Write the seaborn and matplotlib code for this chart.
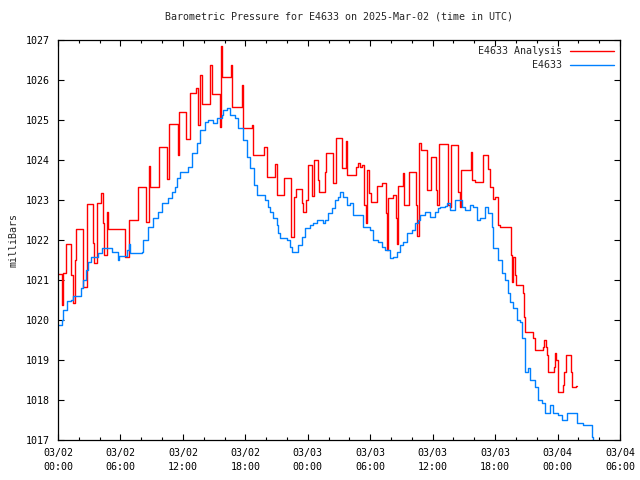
import matplotlib
matplotlib.use("Agg")
import matplotlib.pyplot as plt
import matplotlib.dates as mdates
import seaborn as sns
import pandas as pd

# hours after 2025-03-02 00:00 UTC, pressure in millibars
blue_hours = [0.00, 0.38, 0.48, 0.86, 1.25, 1.44, 2.21, 2.40, 2.69, 2.88, 3.17, 3.84, 4.23,
              5.19, 5.77, 5.87, 6.63, 6.82, 6.92, 8.07, 8.17, 8.65, 9.13, 9.61, 10.00, 10.57,
              10.96, 11.24, 11.44, 11.72, 12.49, 12.88, 13.36, 13.65, 14.13, 14.42, 14.90,
              15.28, 15.76, 15.86, 16.24, 16.53, 17.01, 17.30, 17.78, 18.16, 18.45, 18.84,
              19.13, 19.90, 20.18, 20.37, 20.66, 21.05, 21.14, 21.33, 22.00, 22.30, 22.49,
              23.07, 23.45, 23.74, 24.22, 24.50, 24.89, 25.47, 25.66, 25.95, 26.33, 26.62,
              26.91, 27.10, 27.39, 27.77, 28.06, 28.35, 29.31, 29.98, 30.27, 30.75, 31.13,
              31.42, 31.90, 32.19, 32.58, 32.86, 33.15, 33.54, 34.02, 34.31, 34.59, 34.79,
              35.27, 35.75, 36.23, 36.52, 36.71, 37.19, 37.38, 37.67, 38.15, 38.82, 39.11,
              39.59, 39.88, 40.26, 40.55, 41.03, 41.32, 41.70, 41.80, 42.28, 42.66, 42.95,
              43.24, 43.43, 43.72, 44.11, 44.39, 44.59, 44.88, 45.17, 45.36, 45.84, 46.13,
              46.51, 46.80, 47.28, 47.57, 48.05, 48.43, 48.91, 49.88, 50.45, 51.32, 51.42]
blue_vals = [1019.88, 1020.00, 1020.25, 1020.48, 1020.50, 1020.60, 1020.80, 1021.00, 1021.25,
             1021.45, 1021.58, 1021.68, 1021.80, 1021.70, 1021.50, 1021.60, 1021.75, 1021.90,
             1021.68, 1021.70, 1022.00, 1022.33, 1022.55, 1022.70, 1022.93, 1023.05, 1023.20,
             1023.33, 1023.55, 1023.70, 1023.83, 1024.18, 1024.43, 1024.75, 1024.95, 1025.00,
             1024.93, 1025.05, 1025.13, 1025.25, 1025.30, 1025.13, 1025.05, 1024.80, 1024.50,
             1024.08, 1023.80, 1023.38, 1023.13, 1023.00, 1022.83, 1022.70, 1022.55, 1022.38,
             1022.18, 1022.05, 1022.00, 1021.83, 1021.70, 1021.88, 1022.08, 1022.30, 1022.38,
             1022.43, 1022.50, 1022.43, 1022.50, 1022.68, 1022.80, 1023.00, 1023.08, 1023.20,
             1023.08, 1022.88, 1022.93, 1022.63, 1022.33, 1022.25, 1022.00, 1021.95, 1021.83,
             1021.75, 1021.55, 1021.58, 1021.70, 1021.88, 1021.95, 1022.18, 1022.25, 1022.43,
             1022.50, 1022.63, 1022.70, 1022.58, 1022.70, 1022.80, 1022.83, 1022.85, 1022.93,
             1022.75, 1023.00, 1022.83, 1022.75, 1022.88, 1022.83, 1022.50, 1022.55, 1022.83,
             1022.68, 1022.33, 1021.80, 1021.50, 1021.18, 1021.00, 1020.68, 1020.45, 1020.30,
             1020.00, 1019.95, 1019.55, 1018.70, 1018.80, 1018.50, 1018.33, 1018.00, 1017.93,
             1017.68, 1017.88, 1017.68, 1017.63, 1017.50, 1017.68, 1017.43, 1017.38, 1017.08,
             1016.95]

red_hours = [0.00, 0.38, 0.48, 0.77, 1.25, 1.44, 1.63, 1.73, 2.40, 2.79, 3.36, 3.46, 3.75,
             4.13, 4.32, 4.42, 4.71, 4.80, 6.44, 6.82, 7.69, 8.46, 8.74, 8.84, 9.71, 10.47,
             10.67, 11.53, 11.63, 12.30, 12.68, 13.26, 13.45, 13.64, 13.84, 14.61, 14.80,
             15.57, 15.66, 15.76, 16.62, 16.72, 17.68, 17.78, 18.64, 18.74, 19.77, 20.08,
             20.85, 21.04, 21.72, 22.39, 22.68, 22.87, 23.45, 23.54, 23.83, 24.02, 24.41,
             24.60, 24.98, 25.08, 25.66, 25.75, 26.43, 26.71, 27.29, 27.67, 27.77, 28.64,
             28.83, 29.02, 29.21, 29.40, 29.60, 29.69, 29.88, 30.08, 30.65, 31.13, 31.52,
             31.61, 31.71, 32.19, 32.48, 32.58, 32.67, 33.15, 33.25, 33.73, 34.40, 34.50,
             34.69, 34.88, 35.46, 35.84, 36.32, 36.42, 36.61, 37.47, 37.67, 37.76, 38.44,
             38.63, 38.72, 39.68, 39.78, 40.07, 40.84, 41.32, 41.51, 41.80, 41.99, 42.28,
             42.47, 43.53, 43.63, 43.72, 43.91, 44.01, 44.68, 44.78, 44.87, 45.64, 45.84,
             46.61, 46.70, 46.89, 46.99, 47.09, 47.66, 47.76, 47.85, 48.05, 48.53, 48.62,
             48.81, 49.30, 49.39, 49.78, 49.87]
red_vals = [1021.15, 1020.38, 1021.18, 1021.90, 1021.13, 1020.43, 1021.50, 1022.28, 1020.83,
            1022.90, 1021.93, 1021.43, 1022.93, 1023.18, 1022.43, 1021.63, 1022.70, 1022.28,
            1021.58, 1022.50, 1023.33, 1022.45, 1023.85, 1023.33, 1024.33, 1023.53, 1024.90,
            1024.13, 1025.20, 1024.53, 1025.68, 1025.80, 1024.88, 1026.13, 1025.40, 1026.38,
            1025.65, 1024.83, 1026.85, 1026.08, 1026.38, 1025.33, 1025.88, 1024.80, 1024.88,
            1024.13, 1024.33, 1023.58, 1023.90, 1023.13, 1023.55, 1022.08, 1023.08, 1023.28,
            1022.93, 1022.70, 1023.00, 1023.88, 1023.10, 1024.00, 1023.50, 1023.20, 1023.70,
            1024.18, 1023.43, 1024.55, 1023.80, 1024.48, 1023.63, 1023.83, 1023.93, 1023.83,
            1023.88, 1022.88, 1022.43, 1023.75, 1023.18, 1022.95, 1023.35, 1023.43, 1022.68,
            1021.75, 1023.05, 1023.13, 1022.55, 1021.90, 1023.35, 1023.68, 1022.88, 1023.70,
            1022.88, 1022.10, 1024.43, 1024.25, 1023.25, 1024.08, 1023.25, 1022.88, 1024.40,
            1022.88, 1022.83, 1024.38, 1023.20, 1022.83, 1023.75, 1024.20, 1023.50, 1023.45,
            1024.13, 1023.78, 1023.33, 1023.03, 1023.08, 1022.38, 1022.33, 1021.63, 1020.95,
            1021.58, 1021.13, 1020.88, 1020.68, 1020.08, 1019.70, 1019.55, 1019.25, 1019.33,
            1019.50, 1019.33, 1019.13, 1018.70, 1018.83, 1019.18, 1019.00, 1018.20, 1018.38,
            1018.70, 1019.13, 1018.70, 1018.33, 1018.35, 1018.35]

start = pd.Timestamp("2025-03-02 00:00")
blue = pd.DataFrame({"time": start + pd.to_timedelta(blue_hours, unit="h"), "pressure": blue_vals})
red = pd.DataFrame({"time": start + pd.to_timedelta(red_hours, unit="h"), "pressure": red_vals})

sns.set_style("ticks")
plt.rcParams["font.family"] = ["DejaVu Sans Mono"]
plt.rcParams["font.size"] = 7.2

fig, ax = plt.subplots(figsize=(6.4, 4.8), dpi=100)
fig.subplots_adjust(left=58 / 640, right=620 / 640, top=1 - 40 / 480, bottom=1 - 440 / 480)

sns.lineplot(data=red, x="time", y="pressure", ax=ax, color="#ff0000", lw=1.0,
             drawstyle="steps-post", estimator=None, label="E4633 Analysis")
sns.lineplot(data=blue, x="time", y="pressure", ax=ax, color="#0080ff", lw=1.0,
             drawstyle="steps-post", estimator=None, label="         E4633")

ax.set_xlim(start, start + pd.Timedelta(hours=54))
ax.set_ylim(1017, 1027)
ax.set_yticks(range(1017, 1028))
ax.xaxis.set_major_locator(mdates.HourLocator(byhour=[0, 6, 12, 18]))
ax.xaxis.set_minor_locator(mdates.HourLocator(interval=2))
ax.xaxis.set_major_formatter(mdates.DateFormatter("%m/%d\n%H:%M"))
ax.tick_params(which="both", direction="in", top=True, right=True, colors="black", labelsize=7.2)
ax.tick_params(which="major", length=4.5, width=0.8, pad=6)
ax.tick_params(which="minor", length=2.5, width=0.8)
for lbl in ax.get_xticklabels():
    lbl.set_linespacing(1.5)
for s in ax.spines.values():
    s.set_linewidth(0.9)
    s.set_color("black")

ax.set_xlabel("")
ax.set_ylabel("milliBars", fontsize=7.2, labelpad=5)
ax.set_title("Barometric Pressure for E4633 on 2025-Mar-02 (time in UTC)", fontsize=7.2, pad=15)

ax.legend(loc="upper right", frameon=False, markerfirst=False, handlelength=4.4,
          handletextpad=0.8, labelspacing=0.45, borderaxespad=0.2, fontsize=7.2)

fig.savefig("out.png", dpi=100)
